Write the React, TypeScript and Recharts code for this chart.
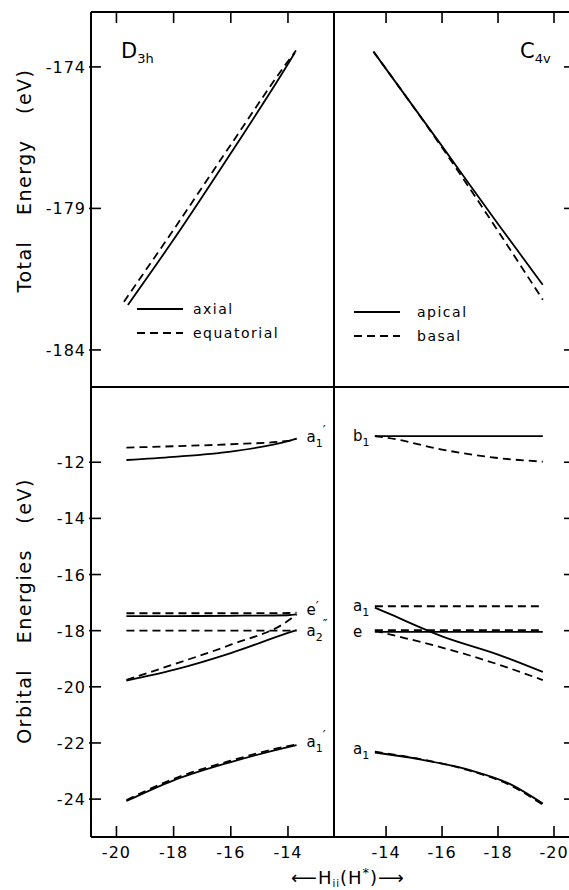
import React from 'react';
import { LineChart, Line, XAxis, YAxis, ReferenceDot, Legend } from 'recharts';

const W = 580;
const H = 890;
const FONT = '"DejaVu Sans", sans-serif';
const DASH = '8 5';
const LW = 1.8;

// axis set-up
const d3hDomain = [-20.89, -12.39];
const c4vDomain = [-20.75, -12.14];
const totalDomain = [-185.31, -172.06];
const orbitalDomain = [-25.35, -9.32];
const d3hTicks = [-20, -18, -16, -14];
const c4vTicks = [-14, -16, -18, -20];
const totalTicks = [-174, -179, -184];
const orbitalTicks = [-12, -14, -16, -18, -20, -22, -24];

// total energy, D3h
const d3hAxialH = [-19.6, -18, -16, -14, -13.76];
const d3hAxialE = [-182.41, -180.1, -177.05, -173.9, -173.5];
const d3hEquatH = [-19.74, -18, -16, -14, -13.72];
const d3hEquatE = [-182.3, -179.75, -176.75, -173.8, -173.42];

// total energy, C4v
const c4vTotH = [-13.55, -16, -18, -19.6];
const c4vApicalE = [-173.46, -176.8, -179.55, -181.7];
const c4vBasalE = [-173.46, -176.85, -179.8, -182.23];

// orbital energies, D3h (solid = axial, dashed = equatorial)
const d3hH = [-19.65, -18, -16, -14, -13.7];
const d3hA1TopAx = [-11.92, -11.81, -11.62, -11.25, -11.16];
const d3hA1TopEq = [-11.48, -11.43, -11.36, -11.24, -11.16];
const d3hEAx = [-17.48, -17.48, -17.47, -17.45, -17.42];
const d3hEEq = [-17.38, -17.38, -17.38, -17.37, -17.36];
const d3hA2Ax = [-19.78, -19.4, -18.8, -18.08, -17.98];
const d3hA2Eq = [-18.0, -18.0, -18.0, -18.0, -18.0];
const d3hRiseEq = [-19.75, -19.2, -18.5, -17.65, -17.42];
const d3hA1LowAx = [-24.07, -23.33, -22.68, -22.15, -22.08];
const d3hA1LowEq = [-24.03, -23.28, -22.63, -22.11, -22.05];

// orbital energies, C4v (solid = apical, dashed = basal)
const c4vH = [-13.6, -14, -16, -18, -19.6];
const c4vB1Ap = [-11.07, -11.07, -11.07, -11.07, -11.07];
const c4vB1Ba = [-11.07, -11.12, -11.55, -11.85, -11.98];
const c4vA1Ap = [-17.18, -17.35, -18.2, -18.85, -19.47];
const c4vA1Ba = [-17.13, -17.13, -17.13, -17.13, -17.13];
const c4vEAp = [-18.04, -18.04, -18.04, -18.04, -18.04];
const c4vEBaFlat = [-17.98, -17.98, -17.98, -17.98, -17.98];
const c4vEBa = [-18.0, -18.1, -18.6, -19.2, -19.76];
const c4vLowH = [-13.6, -15.2, -17.0, -18.4, -19.6];
const c4vA1LowAp = [-22.34, -22.58, -22.97, -23.45, -24.16];
const c4vA1LowBa = [-22.31, -22.57, -22.99, -23.49, -24.2];

const d3hSeries = [
  { name: 'a1top-ax', h: d3hH, e: d3hA1TopAx, dashed: false },
  { name: 'a1top-eq', h: d3hH, e: d3hA1TopEq, dashed: true },
  { name: 'e-ax', h: d3hH, e: d3hEAx, dashed: false },
  { name: 'e-eq', h: d3hH, e: d3hEEq, dashed: true },
  { name: 'a2-ax', h: d3hH, e: d3hA2Ax, dashed: false },
  { name: 'a2-eq', h: d3hH, e: d3hA2Eq, dashed: true },
  { name: 'rise-eq', h: d3hH, e: d3hRiseEq, dashed: true },
  { name: 'a1low-ax', h: d3hH, e: d3hA1LowAx, dashed: false },
  { name: 'a1low-eq', h: d3hH, e: d3hA1LowEq, dashed: true },
];

const c4vSeries = [
  { name: 'b1-ap', h: c4vH, e: c4vB1Ap, dashed: false },
  { name: 'b1-ba', h: c4vH, e: c4vB1Ba, dashed: true },
  { name: 'a1-ap', h: c4vH, e: c4vA1Ap, dashed: false },
  { name: 'a1-ba', h: c4vH, e: c4vA1Ba, dashed: true },
  { name: 'e-ap', h: c4vH, e: c4vEAp, dashed: false },
  { name: 'e-ba-flat', h: c4vH, e: c4vEBaFlat, dashed: true },
  { name: 'e-ba', h: c4vH, e: c4vEBa, dashed: true },
  { name: 'a1low-ap', h: c4vLowH, e: c4vA1LowAp, dashed: false },
  { name: 'a1low-ba', h: c4vLowH, e: c4vA1LowBa, dashed: true },
];

// orbital symmetry labels
const d3hLabels = [
  { h: -13.35, e: -11.09, base: 'a', sub: '1', sup: '′' },
  { h: -13.35, e: -17.25, base: 'e', sub: '', sup: '′' },
  { h: -13.35, e: -18.0, base: 'a', sub: '2', sup: '″' },
  { h: -13.35, e: -21.96, base: 'a', sub: '1', sup: '′' },
];
const c4vLabels = [
  { h: -12.82, e: -11.06, base: 'b', sub: '1', sup: '' },
  { h: -12.82, e: -17.12, base: 'a', sub: '1', sup: '' },
  { h: -12.82, e: -18.04, base: 'e', sub: '', sup: '' },
  { h: -12.82, e: -22.2, base: 'a', sub: '1', sup: '' },
];

const zip = (xs: number[], ys: number[]) => xs.map((x, i) => ({ x, y: ys[i] }));

const txt = { fontFamily: FONT, fill: '#000' };
const axisLine = { stroke: '#000', strokeWidth: 2 };
const tickFont = { ...txt, fontSize: 16, letterSpacing: 1 };

const LeftTick = (p: any) => (
  <g>
    <line x1={p.x - 2} x2={p.x + 10} y1={p.y} y2={p.y} stroke="#000" strokeWidth={1.6} />
    <text x={p.x - 5} y={p.y + 6} textAnchor="end" style={tickFont}>
      {p.payload.value}
    </text>
  </g>
);

const BottomTick = (p: any) => (
  <g>
    <line x1={p.x} x2={p.x} y1={p.y} y2={p.y - 11} stroke="#000" strokeWidth={1.6} />
    <text x={p.x} y={p.y + 21} textAnchor="middle" style={tickFont}>
      {p.payload.value}
    </text>
  </g>
);

const TopMark = (p: any) => (
  <line x1={p.x} x2={p.x} y1={p.y} y2={p.y + 11} stroke="#000" strokeWidth={1.6} />
);

const RightMark = (p: any) => (
  <line x1={p.x - 11} x2={p.x} y1={p.y} y2={p.y} stroke="#000" strokeWidth={1.6} />
);

const SymLabel = (p: any) => (
  <text x={p.cx} y={p.cy + 5} style={{ ...txt, fontSize: 15 }}>
    {p.base}
    {p.sub ? <tspan fontSize={11} dy={5}>{p.sub}</tspan> : null}
    {p.sup ? <tspan fontSize={13} dy={p.sub ? -13 : -5}>{p.sup}</tspan> : null}
  </text>
);

const YTitle = (text: string, shift: number) => (props: any) => {
  const vb = props.viewBox;
  const cx = vb.x - 66;
  const cy = vb.y + vb.height / 2 + shift;
  return (
    <text
      x={cx}
      y={cy}
      textAnchor="middle"
      dominantBaseline="central"
      transform={`rotate(-90 ${cx} ${cy})`}
      style={{ ...txt, fontSize: 19, letterSpacing: 1.5, wordSpacing: 18 }}
    >
      {text}
    </text>
  );
};

const GroupTitle = (base: string, sub: string, dx: number) => (props: any) => {
  const vb = props.viewBox;
  return (
    <text x={vb.x + dx} y={vb.y + 47} style={{ ...txt, fontSize: 21 }}>
      {base}
      <tspan fontSize={13} dy={5}>{sub}</tspan>
    </text>
  );
};

const XTitle = (props: any) => {
  const vb = props.viewBox;
  return (
    <text x={vb.x + vb.width + 14} y={884} textAnchor="middle" style={{ ...txt, fontSize: 18, letterSpacing: 1 }}>
      ⟵H<tspan fontSize={10} dy={3}>ii</tspan>
      <tspan dy={-3}>(H</tspan>
      <tspan fontSize={13} dy={-7}>*</tspan>
      <tspan dy={7}>)⟶</tspan>
    </text>
  );
};

const LegendRows = (gap: number) => (props: any) => (
  <div>
    {(props.payload || []).map((entry: any, i: number) => (
      <div key={i} style={{ display: 'flex', alignItems: 'center', height: 24 }}>
        <svg width={46} height={4} style={{ display: 'block' }}>
          <line x1={0} x2={46} y1={2} y2={2} stroke="#000" strokeWidth={LW}
            strokeDasharray={entry.payload && entry.payload.strokeDasharray} />
        </svg>
        <span style={{ marginLeft: gap, fontFamily: FONT, fontSize: 14, letterSpacing: 1.5, lineHeight: '14px' }}>
          {entry.value}
        </span>
      </div>
    ))}
  </div>
);

const layer: React.CSSProperties = { position: 'absolute', left: 0, top: 0 };

export default function App() {
  return (
    <div style={{ position: 'absolute', left: 0, top: 0, width: 569, height: 890, overflow: 'hidden', background: '#fff' }}>
      {/* total energy, D3h */}
      <div style={layer}>
        <LineChart width={W} height={H} margin={{ top: 11, left: 90, right: W - 335, bottom: H - 388 }}>
          <XAxis xAxisId="t" orientation="top" type="number" dataKey="x" domain={d3hDomain} ticks={d3hTicks}
            allowDataOverflow height={1} tickSize={0} tickMargin={0} tickLine={false} axisLine={axisLine}
            tick={TopMark} label={GroupTitle('D', '3h', 30)} />
          <XAxis xAxisId="b" type="number" dataKey="x" domain={d3hDomain} allowDataOverflow height={1}
            tick={false} tickLine={false} axisLine={axisLine} />
          <YAxis yAxisId="l" type="number" domain={totalDomain} ticks={totalTicks} allowDataOverflow width={1}
            tickSize={0} tickMargin={0} tickLine={false} axisLine={axisLine} tick={LeftTick}
            label={YTitle('Total Energy (eV)', -19)} />
          <YAxis yAxisId="r" orientation="right" type="number" domain={totalDomain} allowDataOverflow width={1}
            tick={false} tickLine={false} axisLine={axisLine} />
          <Line xAxisId="b" yAxisId="l" name="axial" data={zip(d3hAxialH, d3hAxialE)} dataKey="y" type="monotone"
            stroke="#000" strokeWidth={LW} dot={false} isAnimationActive={false} />
          <Line xAxisId="b" yAxisId="l" name="equatorial" data={zip(d3hEquatH, d3hEquatE)} dataKey="y" type="monotone"
            stroke="#000" strokeWidth={LW} strokeDasharray={DASH} dot={false} isAnimationActive={false} />
          <Legend layout="vertical" align="center" verticalAlign="middle" width={200}
            wrapperStyle={{ left: 137, top: 297 }} content={LegendRows(10)} />
        </LineChart>
      </div>

      {/* total energy, C4v */}
      <div style={layer}>
        <LineChart width={W} height={H} margin={{ top: 11, left: 334, right: W - 576, bottom: H - 388 }}>
          <XAxis xAxisId="t" orientation="top" type="number" dataKey="x" domain={c4vDomain} ticks={c4vTicks} reversed
            allowDataOverflow height={1} tickSize={0} tickMargin={0} tickLine={false} axisLine={axisLine}
            tick={TopMark} label={GroupTitle('C', '4v', 186)} />
          <XAxis xAxisId="b" type="number" dataKey="x" domain={c4vDomain} reversed allowDataOverflow height={1}
            tick={false} tickLine={false} axisLine={axisLine} />
          <YAxis yAxisId="r" orientation="right" type="number" domain={totalDomain} ticks={totalTicks} allowDataOverflow
            width={1} tickSize={0} tickMargin={0} tickLine={false} axisLine={axisLine} tick={RightMark} />
          <Line xAxisId="b" yAxisId="r" name="apical" data={zip(c4vTotH, c4vApicalE)} dataKey="y" type="monotone"
            stroke="#000" strokeWidth={LW} dot={false} isAnimationActive={false} />
          <Line xAxisId="b" yAxisId="r" name="basal" data={zip(c4vTotH, c4vBasalE)} dataKey="y" type="monotone"
            stroke="#000" strokeWidth={LW} strokeDasharray={DASH} dot={false} isAnimationActive={false} />
          <Legend layout="vertical" align="center" verticalAlign="middle" width={200}
            wrapperStyle={{ left: 354, top: 300 }} content={LegendRows(17)} />
        </LineChart>
      </div>

      {/* orbital energies, D3h */}
      <div style={layer}>
        <LineChart width={W} height={H} margin={{ top: 387, left: 90, right: W - 335, bottom: H - 838 }}>
          <XAxis xAxisId="b" type="number" dataKey="x" domain={d3hDomain} ticks={d3hTicks} allowDataOverflow height={1}
            tickSize={0} tickMargin={0} tickLine={false} axisLine={axisLine} tick={BottomTick} label={XTitle} />
          <YAxis yAxisId="l" type="number" domain={orbitalDomain} ticks={orbitalTicks} allowDataOverflow width={1}
            tickSize={0} tickMargin={0} tickLine={false} axisLine={axisLine} tick={LeftTick}
            label={YTitle('Orbital Energies (eV)', -1)} />
          <YAxis yAxisId="r" orientation="right" type="number" domain={orbitalDomain} allowDataOverflow width={1}
            tick={false} tickLine={false} axisLine={axisLine} />
          {d3hSeries.map((s) => (
            <Line key={s.name} xAxisId="b" yAxisId="l" name={s.name} data={zip(s.h, s.e)} dataKey="y" type="monotone"
              stroke="#000" strokeWidth={LW} strokeDasharray={s.dashed ? DASH : undefined} dot={false}
              isAnimationActive={false} />
          ))}
          {d3hLabels.map((l, i) => (
            <ReferenceDot key={i} xAxisId="b" yAxisId="l" x={l.h} y={l.e} r={0} ifOverflow="visible"
              shape={(p: any) => <SymLabel cx={p.cx} cy={p.cy} base={l.base} sub={l.sub} sup={l.sup} />} />
          ))}
        </LineChart>
      </div>

      {/* orbital energies, C4v */}
      <div style={layer}>
        <LineChart width={W} height={H} margin={{ top: 387, left: 334, right: W - 576, bottom: H - 838 }}>
          <XAxis xAxisId="b" type="number" dataKey="x" domain={c4vDomain} ticks={c4vTicks} reversed allowDataOverflow
            height={1} tickSize={0} tickMargin={0} tickLine={false} axisLine={axisLine} tick={BottomTick} />
          <YAxis yAxisId="r" orientation="right" type="number" domain={orbitalDomain} ticks={orbitalTicks}
            allowDataOverflow width={1} tickSize={0} tickMargin={0} tickLine={false} axisLine={axisLine} tick={RightMark} />
          {c4vSeries.map((s) => (
            <Line key={s.name} xAxisId="b" yAxisId="r" name={s.name} data={zip(s.h, s.e)} dataKey="y" type="monotone"
              stroke="#000" strokeWidth={LW} strokeDasharray={s.dashed ? DASH : undefined} dot={false}
              isAnimationActive={false} />
          ))}
          {c4vLabels.map((l, i) => (
            <ReferenceDot key={i} xAxisId="b" yAxisId="r" x={l.h} y={l.e} r={0} ifOverflow="visible"
              shape={(p: any) => <SymLabel cx={p.cx} cy={p.cy} base={l.base} sub={l.sub} sup={l.sup} />} />
          ))}
        </LineChart>
      </div>
    </div>
  );
}
